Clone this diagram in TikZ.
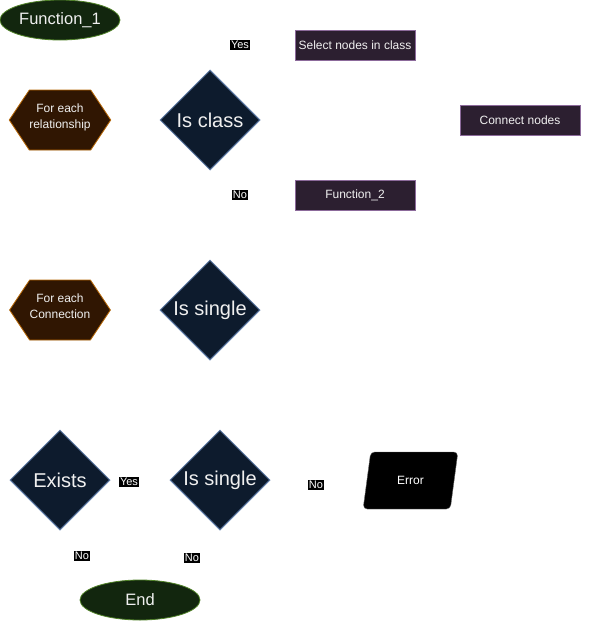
\documentclass[tikz,border=0pt]{standalone}
\usepackage{fontspec}
\setmainfont{Liberation Sans}
\usepackage{xcolor}
\usetikzlibrary{shapes.geometric, shapes.symbols, positioning}

\definecolor{termfill}{RGB}{18,38,14}
\definecolor{termline}{RGB}{80,130,40}
\definecolor{loopfill}{RGB}{48,22,2}
\definecolor{loopline}{RGB}{180,101,4}
\definecolor{askfill}{RGB}{13,27,45}
\definecolor{askline}{RGB}{96,126,170}
\definecolor{stepfill}{RGB}{44,31,48}
\definecolor{stepline}{RGB}{140,106,155}
\definecolor{txt}{RGB}{240,240,240}

\begin{document}
\begin{tikzpicture}[x=1pt, y=-1pt,
    term/.style={ellipse, draw=termline, fill=termfill, text=txt, line width=0.8pt, minimum width=120pt, minimum height=40pt, inner sep=0pt, font=\fontsize{16.5}{18}\selectfont},
    loopbox/.style={signal, signal to=west and east, signal pointer angle=112.6, draw=loopline, fill=loopfill, text=txt, line width=0.8pt, minimum width=100pt, minimum height=60pt, inner sep=0pt, align=center, font=\fontsize{12}{16}\selectfont},
    ask/.style={diamond, aspect=1, draw=askline, fill=askfill, text=txt, line width=1pt, minimum width=100pt, minimum height=100pt, inner sep=0pt, font=\fontsize{20}{22}\selectfont},
    stepbox/.style={rectangle, draw=stepline, fill=stepfill, text=txt, line width=0.8pt, minimum width=120pt, minimum height=30pt, inner sep=0pt, font=\fontsize{12}{14}\selectfont},
    tag/.style={fill=black, text=white, inner sep=1pt, font=\fontsize{11}{12}\selectfont},
    io/.style={trapezium, trapezium left angle=73, trapezium right angle=107, trapezium stretches=true, rounded corners=4pt, draw=black!60, fill=black, text=white, minimum width=95pt, minimum height=57pt, inner sep=0pt, font=\fontsize{12}{14}\selectfont}]
    \useasboundingbox (0,0) rectangle (609,621);

    \node[term] (f1) at (60, 20) {Function\_1};
    \node[loopbox] (rel) at (60, 120) {For each\\relationship\\[-9pt]};
    \node[ask] (cls) at (210, 120) {Is class};
    \node[stepbox] (sel) at (355, 45) {Select nodes in class};
    \node[stepbox] (con) at (520, 120) {Connect nodes};
    \node[stepbox] (f2) at (355, 195) {Function\_2};
    \node[tag] (yes1) at (240, 45) {Yes};
    \node[tag] (no1) at (240, 195) {No};

    \node[loopbox] (conn) at (60, 310) {For each\\Connection\\[-9pt]};
    \node[ask] (sgl) at (210, 310) {Is single};

    \node[ask] (ex) at (60, 480) {Exists};
    \node[ask] (sgl2) at (220, 480) {Is single};
    \node[io] (err) at (410.5, 480.5) {Error};
    \node[tag] (yes2) at (129, 482) {Yes};
    \node[tag] (no2) at (316, 485) {No};
    \node[tag] (no3) at (82, 556) {No};
    \node[tag] (no4) at (192, 558) {No};
    \node[term] (end) at (140, 600) {End};
\end{tikzpicture}
\end{document}
